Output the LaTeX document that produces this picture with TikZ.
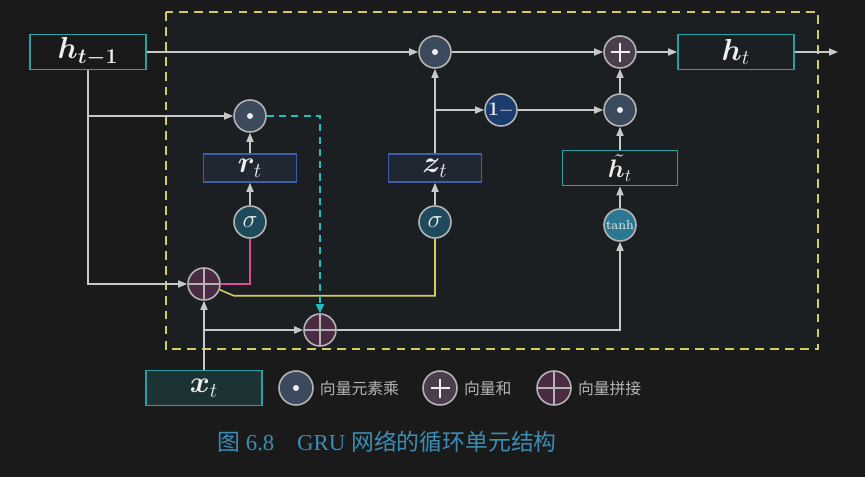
\documentclass[tikz,border=0pt]{standalone}
\usepackage{amsmath}
\usepackage{bm}
\usepackage{fontspec}
\usepackage{xcolor}
\newfontfamily\cjk{Noto Sans CJK SC}
\newfontfamily\capfont{Liberation Serif}
\usetikzlibrary{arrows.meta}
\definecolor{bgc}{HTML}{1A1A1A}
\definecolor{innerc}{HTML}{1C1F22}
\definecolor{wire}{HTML}{C8C8C8}
\definecolor{rimc}{HTML}{B4B4B4}
\definecolor{dotfill}{HTML}{3B4A5C}
\definecolor{plusfill}{HTML}{4A3D4C}
\definecolor{catfill}{HTML}{4A2B43}
\definecolor{sigfill}{HTML}{1F4A5C}
\definecolor{tanhfill}{HTML}{2B7892}
\definecolor{onefill}{HTML}{1A3C6E}
\definecolor{tealc}{HTML}{2A9FA5}
\definecolor{bluec}{HTML}{3E5FA8}
\definecolor{pinkc}{HTML}{E04A9A}
\definecolor{yelc}{HTML}{D5CC5E}
\definecolor{dashc}{HTML}{20C0C0}
\definecolor{capc}{HTML}{3A8DB5}
\definecolor{txt}{HTML}{EEEEEE}

\begin{document}
\begin{tikzpicture}[x=0.02cm,y=-0.02cm]%
  \tikzstyle{line}=[draw=wire,line width=0.9pt]
  \tikzstyle{arr}=[line,-{Triangle[length=1.8mm,width=1.4mm]}]
  \tikzstyle{boxn}=[rectangle,line width=0.9pt,inner sep=0,text=txt,font=\fontsize{17}{20}\selectfont]
  \tikzstyle{boxh}=[boxn,draw=tealc,fill=bgc,minimum width=2.32cm,minimum height=0.7cm]
  \tikzstyle{boxg}=[boxn,draw=bluec,fill=innerc!88!bluec,minimum width=1.86cm,minimum height=0.56cm]
  \tikzstyle{cirn}=[circle,draw=rimc,line width=0.9pt,minimum size=0.64cm,inner sep=0,text=txt]
  \tikzstyle{dotn}=[cirn,fill=dotfill,path picture={\fill[txt] (path picture bounding box.center) circle (0.06cm);}]
  \tikzstyle{plusn}=[cirn,fill=plusfill,path picture={\draw[txt,line width=0.9pt]
      ([xshift=-0.19cm]path picture bounding box.center) -- ([xshift=0.19cm]path picture bounding box.center)
      ([yshift=-0.19cm]path picture bounding box.center) -- ([yshift=0.19cm]path picture bounding box.center);}]
  \tikzstyle{catn}=[cirn,fill=catfill,path picture={\draw[rimc,line width=0.9pt]
      (path picture bounding box.north) -- (path picture bounding box.south)
      (path picture bounding box.west) -- (path picture bounding box.east);}]
  \tikzstyle{sign}=[cirn,fill=sigfill,font=\fontsize{15}{17}\selectfont]
  \tikzstyle{legt}=[anchor=west,text=wire!90!black,font=\cjk\fontsize{9}{11}\selectfont]
  \fill[bgc] (0,0) rectangle (865,477);
  \draw[yelc,line width=1.3pt,dash pattern=on 5pt off 3.5pt,fill=innerc] (166,12) rectangle (818,349);

  \node(hp)[boxh] at (88,52) {$\boldsymbol{h}_{\boldsymbol{t-1}}$};
  \node(ht)[boxh,fill=innerc] at (736,52) {$\boldsymbol{h}_t$};
  \node(htil)[boxh,fill=innerc,minimum width=2.3cm,font=\fontsize{14.4}{17}\selectfont] at (620,168) {$\skew{4}{\tilde}{\bm{h}}_t$};
  \node(xt)[boxh,fill=tealc!18!bgc] at (204,388) {$\boldsymbol{x}_t$};
  \node(rt)[boxg] at (250,168) {$\boldsymbol{r}_t$};
  \node(zt)[boxg] at (435,168) {$\boldsymbol{z}_t$};
  \node(m1)[dotn] at (435,52) {};
  \node(mr)[dotn] at (250,116) {};
  \node(m2)[dotn] at (620,110) {};
  \node(pl)[plusn] at (620,52) {};
  \node(om)[cirn,fill=onefill,font=\fontsize{11}{12}\selectfont\bfseries] at (501,110) {1$-$};
  \node(s1)[sign] at (250,222) {$\sigma$};
  \node(s2)[sign] at (435,222) {$\sigma$};
  \node(th)[cirn,fill=tanhfill,font=\fontsize{7.5}{8}\selectfont] at (620,225) {tanh};
  \node(cat1)[catn] at (204,284) {};
  \node(cat2)[catn] at (320,330) {};
  \coordinate(out) at (838,52);

  \draw[arr] (hp) -- (m1);
  \draw[arr] (hp.south) |- (cat1);
  \draw[arr] (hp.south |- mr) -- (mr);
  \draw[arr] (s1) -- (rt);
  \draw[arr] (rt) -- (mr);
  \draw[pinkc,line width=0.9pt] (cat1.east) -| (s1);
  \draw[yelc,line width=0.9pt] (cat1.-20) -- ++(14,6) -| (s2);
  \draw[dashc,line width=0.9pt,dash pattern=on 4pt off 3pt,-{Triangle[length=1.8mm,width=1.6mm]}] (mr) -| (cat2);
  \draw[arr] (xt) -- (cat1);
  \draw[arr] (xt.north |- cat2) -- (cat2);
  \draw[arr] (cat2) -| (th);
  \draw[arr] (th) -- (htil);
  \draw[arr] (htil) -- (m2);
  \draw[arr] (m2) -- (pl);
  \draw[arr] (s2) -- (zt);
  \draw[arr] (zt) -- (m1);
  \draw[arr] (zt.north |- om) -- (om);
  \draw[arr] (om) -- (m2);
  \draw[arr] (m1) -- (pl);
  \draw[arr] (pl) -- (ht);
  \draw[arr] (ht) -- (out);

  \node(l1)[dotn,minimum size=0.68cm] at (296,388) {};
  \node(l2)[plusn,minimum size=0.68cm] at (440,388) {};
  \node(l3)[catn,minimum size=0.68cm] at (554,388) {};
  \node[legt] at (l1.east) {向量元素乘};
  \node[legt] at (l2.east) {向量和};
  \node[legt] at (l3.east) {向量拼接};
  \node(cap)[text=capc,font=\capfont\fontsize{13}{15}\selectfont] at (387,442) {{\cjk 图} 6.8\quad GRU {\cjk 网络的循环单元结构}};
\end{tikzpicture}
\end{document}
